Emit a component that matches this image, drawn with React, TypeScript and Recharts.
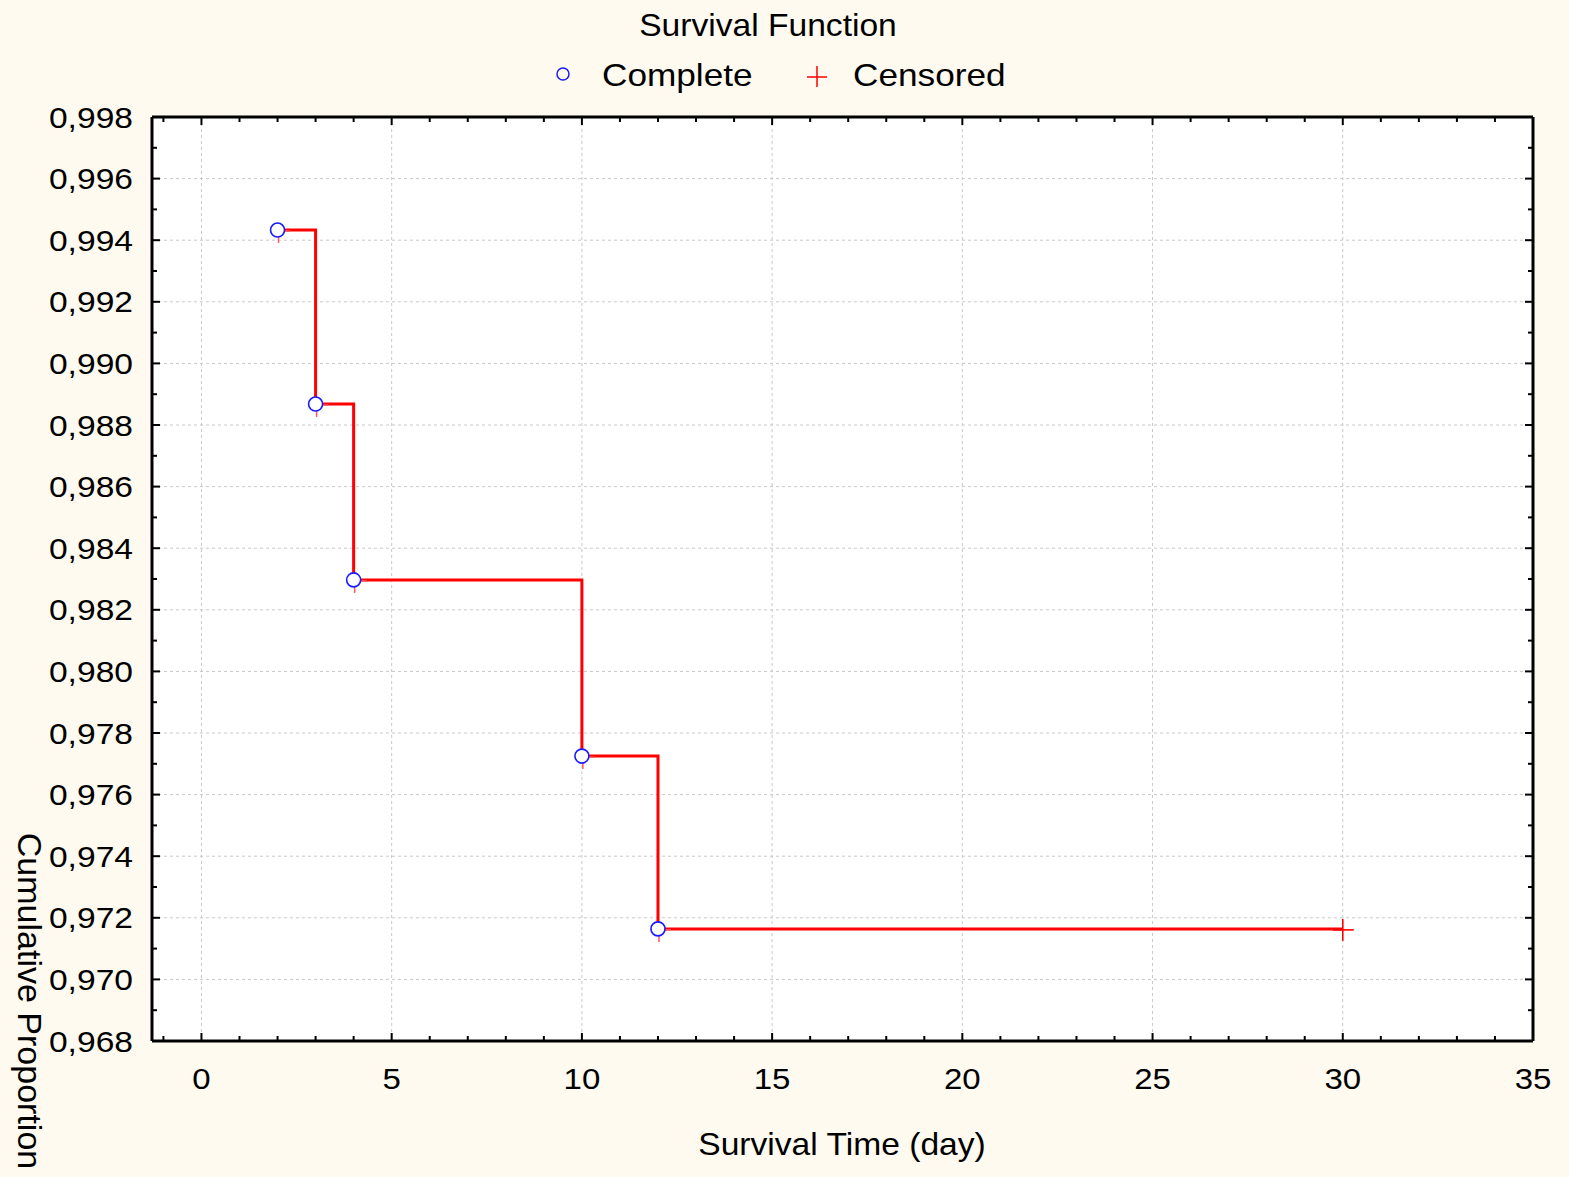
import React from 'react';
import { ComposedChart, Line, Scatter, XAxis, YAxis, CartesianGrid } from 'recharts';

// Kaplan-Meier estimate
const times = [2, 3, 4, 10, 12, 30];
const survival = [0.99433, 0.98868, 0.98297, 0.97725, 0.97164, 0.97164];

const completeTimes = [2, 3, 4, 10, 12];
const completeValues = [0.99433, 0.98868, 0.98297, 0.97725, 0.97164];

const censoredTimes = [30];
const censoredValues = [0.97164];

const xMajorTicks = [0, 5, 10, 15, 20, 25, 30, 35];
const xMinorTicks = Array.from({ length: 37 }, (_, i) => i - 1);
const yMajorTicks = [0.968, 0.97, 0.972, 0.974, 0.976, 0.978, 0.98, 0.982, 0.984, 0.986, 0.988, 0.99, 0.992, 0.994, 0.996, 0.998];
const yMinorTicks = Array.from({ length: 31 }, (_, i) => (968 + i) / 1000);

const stepData = times.map((t, i) => ({ t, s: survival[i] }));
const completeData = completeTimes.map((t, i) => ({ t, s: completeValues[i] }));
const censoredData = censoredTimes.map((t, i) => ({ t, s: censoredValues[i] }));

const FONT = '"Liberation Sans", Arial, sans-serif';
const RED = '#ff0000';
const BLUE = '#1a1aff';

const isXMajor = (v: number) => Math.abs(v % 5) < 1e-9;
const isYMajor = (v: number) => Math.round(v * 1000) % 2 === 0;

const BottomTick = (props: any) => {
  const { x, y, payload } = props;
  const v = payload.value;
  const major = isXMajor(v);
  return (
    <g>
      <line x1={x} x2={x} y1={y} y2={y - (major ? 8 : 5)} stroke="#000" strokeWidth={2} />
      {major && (
        <text transform={`translate(${x},${y + 48}) scale(1.1,1)`} textAnchor="middle" fontFamily={FONT} fontSize={30} fill="#000">
          {v}
        </text>
      )}
    </g>
  );
};

const TopTick = (props: any) => {
  const { x, y, payload } = props;
  const major = isXMajor(payload.value);
  return <line x1={x} x2={x} y1={y} y2={y + (major ? 8 : 5)} stroke="#000" strokeWidth={2} />;
};

const LeftTick = (props: any) => {
  const { x, y, payload } = props;
  const v = payload.value;
  const major = isYMajor(v);
  return (
    <g>
      <line x1={x} x2={x + (major ? 8 : 5)} y1={y} y2={y} stroke="#000" strokeWidth={2} />
      {major && (
        <text transform={`translate(${x - 19},${y + 10.5}) scale(1.12,1)`} textAnchor="end" fontFamily={FONT} fontSize={30} fill="#000">
          {v.toFixed(3).replace('.', ',')}
        </text>
      )}
    </g>
  );
};

const RightTick = (props: any) => {
  const { x, y, payload } = props;
  const major = isYMajor(payload.value);
  return <line x1={x} x2={x - (major ? 8 : 5)} y1={y} y2={y} stroke="#000" strokeWidth={2} />;
};

const CompleteMark = (props: any) => {
  const { cx, cy } = props;
  return <circle cx={cx} cy={cy} r={7} fill="#fff" stroke={BLUE} strokeWidth={1.6} />;
};

// faint censor tick that peeks out below/right of each circle
const EventTick = (props: any) => {
  const { cx, cy } = props;
  return (
    <g stroke="#ff5a5a" strokeWidth={1.5}>
      <line x1={cx + 1} x2={cx + 1} y1={cy} y2={cy + 13} />
      <line x1={cx} x2={cx + 13} y1={cy + 1} y2={cy + 1} />
    </g>
  );
};

const CensoredMark = (props: any) => {
  const { cx, cy } = props;
  return (
    <g stroke={RED} strokeWidth={1.6}>
      <line x1={cx - 10} x2={cx + 11} y1={cy + 1} y2={cy + 1} />
      <line x1={cx} x2={cx} y1={cy - 10} y2={cy + 12} />
    </g>
  );
};

const XLabel = () => (
  <text transform="translate(842,1155) scale(1.05,1)" textAnchor="middle" fontFamily={FONT} fontSize={32} fill="#000">
    Survival Time (day)
  </text>
);

const YLabel = () => (
  <text transform="translate(18,1001) rotate(90)" textAnchor="middle" fontFamily={FONT} fontSize={34} fill="#000">
    Cumulative Proportion
  </text>
);

export default function App() {
  return (
    <div style={{ position: 'absolute', left: 0, top: 0, width: 1569, height: 1177, background: '#fefaef' }}>
      <svg width={1569} height={110} style={{ position: 'absolute', left: 0, top: 0 }}>
        <text transform="translate(768,36) scale(1.05,1)" textAnchor="middle" fontFamily={FONT} fontSize={32} fill="#000">
          Survival Function
        </text>
        <circle cx={563} cy={74} r={6} fill="none" stroke={BLUE} strokeWidth={1.5} />
        <text transform="translate(602,86) scale(1.1,1)" fontFamily={FONT} fontSize={32} fill="#000">
          Complete
        </text>
        <g stroke={RED} strokeWidth={1.5}>
          <line x1={807} x2={827} y1={77} y2={77} />
          <line x1={817} x2={817} y1={66} y2={87} />
        </g>
        <text transform="translate(853,86) scale(1.1,1)" fontFamily={FONT} fontSize={32} fill="#000">
          Censored
        </text>
      </svg>
      <div style={{ position: 'absolute', left: 0, top: 0 }}>
        <ComposedChart width={1569} height={1177} margin={{ top: 116, right: 35, bottom: 100, left: 0 }}>
          <CartesianGrid
            xAxisId="main"
            yAxisId="main"
            fill="#ffffff"
            fillOpacity={1}
            stroke="#c8c8c8"
            strokeDasharray="3 3"
            verticalValues={xMajorTicks}
            horizontalValues={yMajorTicks}
          />
          <XAxis
            xAxisId="main"
            dataKey="t"
            type="number"
            domain={[-1.3, 35]}
            allowDataOverflow
            ticks={xMinorTicks}
            interval={0}
            height={36}
            tickSize={0}
            tickMargin={0}
            tickLine={false}
            tick={<BottomTick />}
            axisLine={{ stroke: '#000', strokeWidth: 3 }}
            label={<XLabel />}
          />
          <XAxis
            xAxisId="top"
            orientation="top"
            dataKey="t"
            type="number"
            domain={[-1.3, 35]}
            allowDataOverflow
            ticks={xMinorTicks}
            interval={0}
            height={1}
            tickSize={0}
            tickMargin={0}
            tickLine={false}
            tick={<TopTick />}
            axisLine={{ stroke: '#000', strokeWidth: 3 }}
          />
          <YAxis
            yAxisId="main"
            type="number"
            domain={[0.968, 0.998]}
            allowDataOverflow
            ticks={yMinorTicks}
            interval={0}
            width={152}
            tickSize={0}
            tickMargin={0}
            tickLine={false}
            tick={<LeftTick />}
            axisLine={{ stroke: '#000', strokeWidth: 3 }}
            label={<YLabel />}
          />
          <YAxis
            yAxisId="right"
            orientation="right"
            type="number"
            domain={[0.968, 0.998]}
            allowDataOverflow
            ticks={yMinorTicks}
            interval={0}
            width={1}
            tickSize={0}
            tickMargin={0}
            tickLine={false}
            tick={<RightTick />}
            axisLine={{ stroke: '#000', strokeWidth: 3 }}
          />
          <Line
            xAxisId="main"
            yAxisId="main"
            data={stepData}
            dataKey="s"
            type="stepAfter"
            stroke={RED}
            strokeWidth={3}
            dot={false}
            isAnimationActive={false}
          />
          <Scatter xAxisId="main" yAxisId="main" data={completeData} dataKey="s" shape={<EventTick />} isAnimationActive={false} />
          <Scatter xAxisId="main" yAxisId="main" data={completeData} dataKey="s" shape={<CompleteMark />} isAnimationActive={false} />
          <Scatter xAxisId="main" yAxisId="main" data={censoredData} dataKey="s" shape={<CensoredMark />} isAnimationActive={false} />
        </ComposedChart>
      </div>
    </div>
  );
}
